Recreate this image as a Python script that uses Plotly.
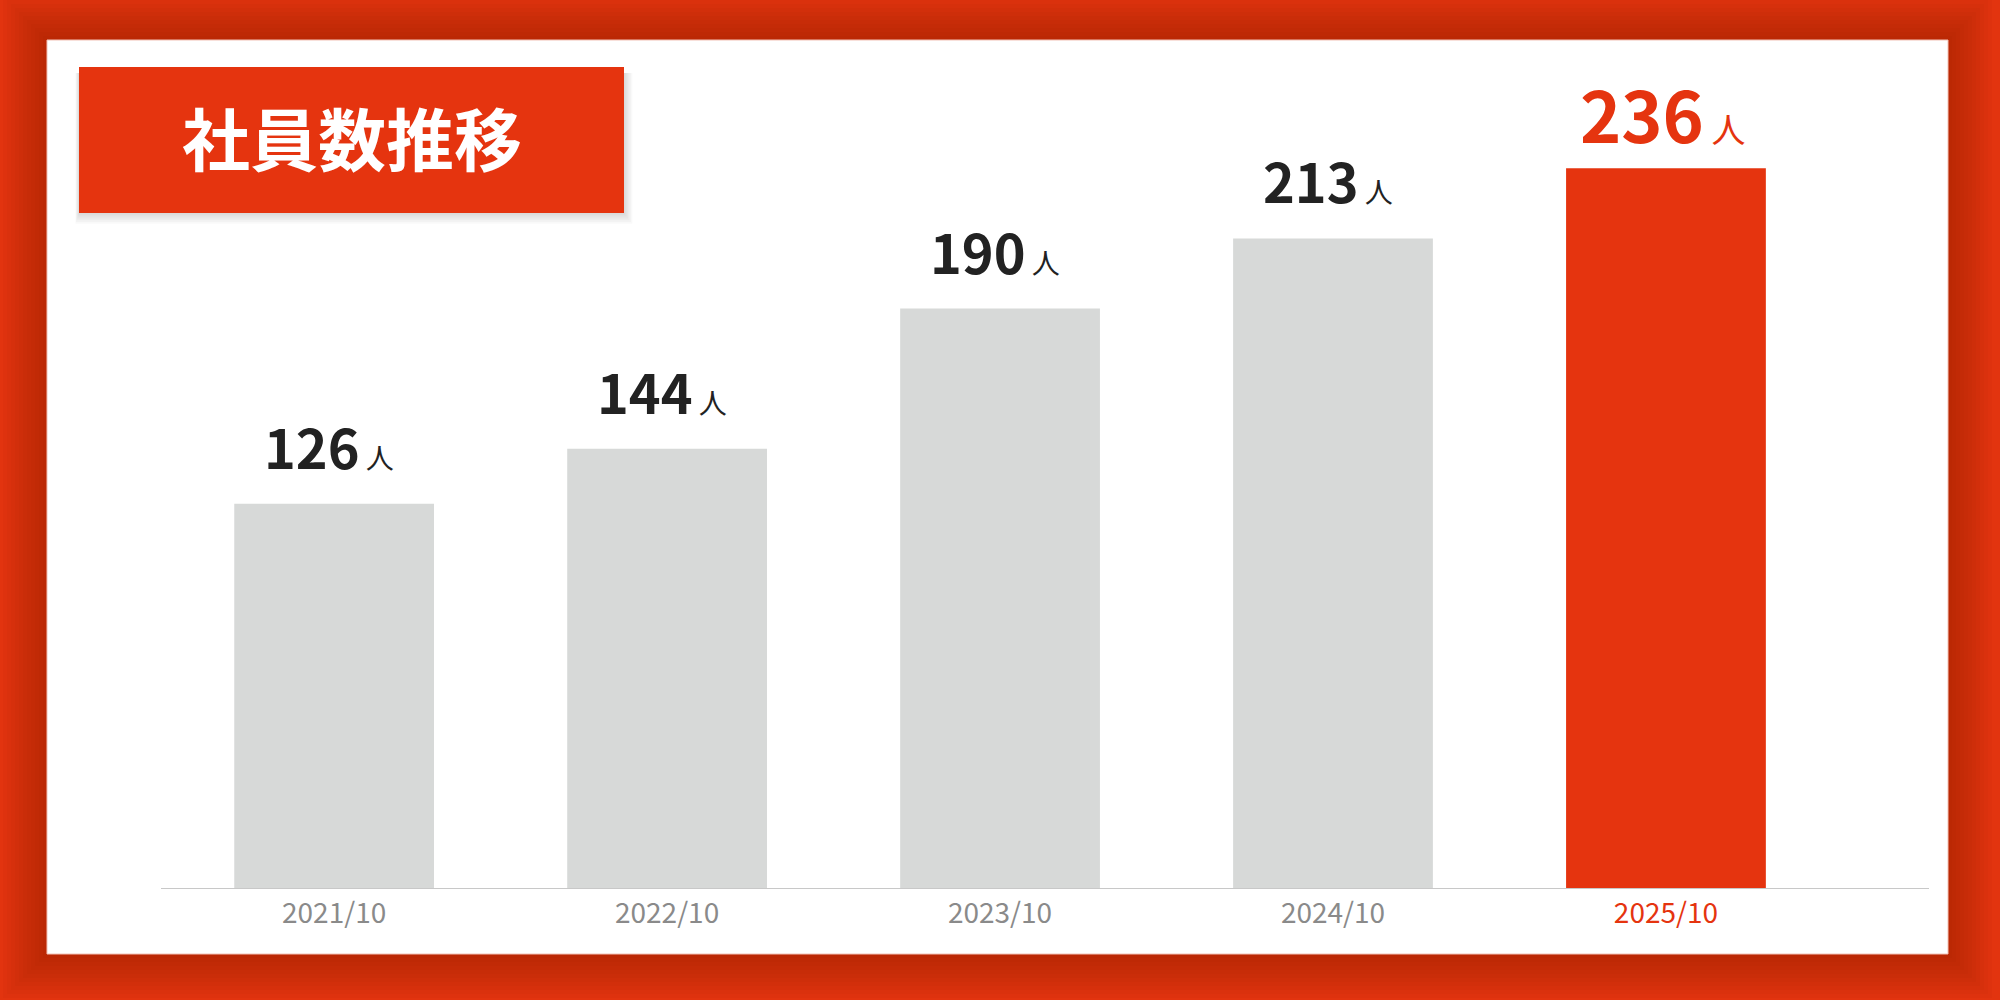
import plotly.graph_objects as go

# ---- data ----
categories = ["2021/10", "2022/10", "2023/10", "2024/10", "2025/10"]
employees = [126, 144, 190, 213, 236]
unit = "人"
title_text = "社員数推移"

# ---- layout constants (pixels) ----
W, H = 2000, 1000
L, R, T, B = 161, 71, 100, 112
PW, PH = W - L - R, H - T - B

RED = "#E5340F"
GRAY = "#D7D9D8"
DARK = "#222222"
TICK = "#8A8A8A"
FONT = "Noto Sans CJK JP"


def px(x):
    return (x - L) / PW


def py(y):
    return (H - B - y) / PH


colors = [GRAY] * (len(categories) - 1) + [RED]

fig = go.Figure(
    go.Bar(
        x=categories,
        y=employees,
        width=0.6,
        marker=dict(color=colors, line_width=0),
        hoverinfo="skip",
    )
)

shapes = []
# red border shadow (darker near the white panel)
pl, pt, pr, pb = 47, 40, 1948, 954
for k in range(0, 12):
    d = k * 4
    shapes.append(dict(type="rect", xref="paper", yref="paper",
                       x0=px(pl - d), x1=px(pr + d), y0=py(pb + d), y1=py(pt - d),
                       fillcolor="rgba(60,0,0,0.019)", line_width=0, layer="below"))
# white panel
shapes.append(dict(type="rect", xref="paper", yref="paper",
                   x0=px(pl), x1=px(pr), y0=py(pb), y1=py(pt),
                   fillcolor="white", line=dict(color="#F2C2B6", width=1), layer="below"))
# title box soft shadow (mostly below / right)
bx0, by0, bx1, by1 = 79, 67, 624, 213
for k in range(1, 7):
    shapes.append(dict(type="rect", xref="paper", yref="paper",
                       x0=px(bx0 - k * 0.6), x1=px(bx1 + k * 1.4),
                       y0=py(by1 + k * 1.8), y1=py(by0 + 6),
                       fillcolor="rgba(0,0,0,0.025)", line_width=0, layer="below"))
shapes.append(dict(type="rect", xref="paper", yref="paper",
                   x0=px(bx0), x1=px(bx1), y0=py(by1), y1=py(by0),
                   fillcolor=RED, line_width=0, layer="below"))

annotations = [dict(
    xref="paper", yref="paper", x=px((bx0 + bx1) / 2), y=py((by0 + by1) / 2),
    xanchor="center", yanchor="middle", showarrow=False, yshift=4,
    text=f"<b>{title_text}</b>", font=dict(family=FONT, size=68, color="white"),
)]

n = len(categories)
for i, (c, v) in enumerate(zip(categories, employees)):
    last = i == n - 1
    num_size = 70 if last else 54
    unit_size = 34 if last else 28
    col = RED if last else DARK
    annotations.append(dict(
        x=c, y=v, xref="x", yref="y", xanchor="center", yanchor="bottom",
        showarrow=False, yshift=3 if last else 17, xshift=-3 if last else -5,
        text=f"<b>{v}</b><span style='font-size:{unit_size}px'>&nbsp;{unit}</span>",
        font=dict(family=FONT, size=num_size, color=col),
    ))

ticktext = [c if i < n - 1 else f"<span style='color:{RED}'>{c}</span>"
            for i, c in enumerate(categories)]

fig.update_layout(
    width=W, height=H,
    margin=dict(l=L, r=R, t=T, b=B),
    paper_bgcolor="#E2340F",
    plot_bgcolor="rgba(0,0,0,0)",
    showlegend=False,
    shapes=shapes,
    annotations=annotations,
    bargap=0.4,
    xaxis=dict(
        type="category", range=[-0.52, 4.79],
        tickvals=categories, ticktext=ticktext,
        showline=True, linecolor="#C8C8C8", linewidth=1,
        showgrid=False, zeroline=False, ticks="",
        tickfont=dict(family=FONT, size=28, color=TICK),
        fixedrange=True,
    ),
    yaxis=dict(
        range=[0, 258.4], visible=False, showgrid=False, zeroline=False,
        fixedrange=True,
    ),
)

fig.write_html(
    "out.html",
    config=dict(displayModeBar=False),
    post_script="document.body.style.margin='0px';",
)
